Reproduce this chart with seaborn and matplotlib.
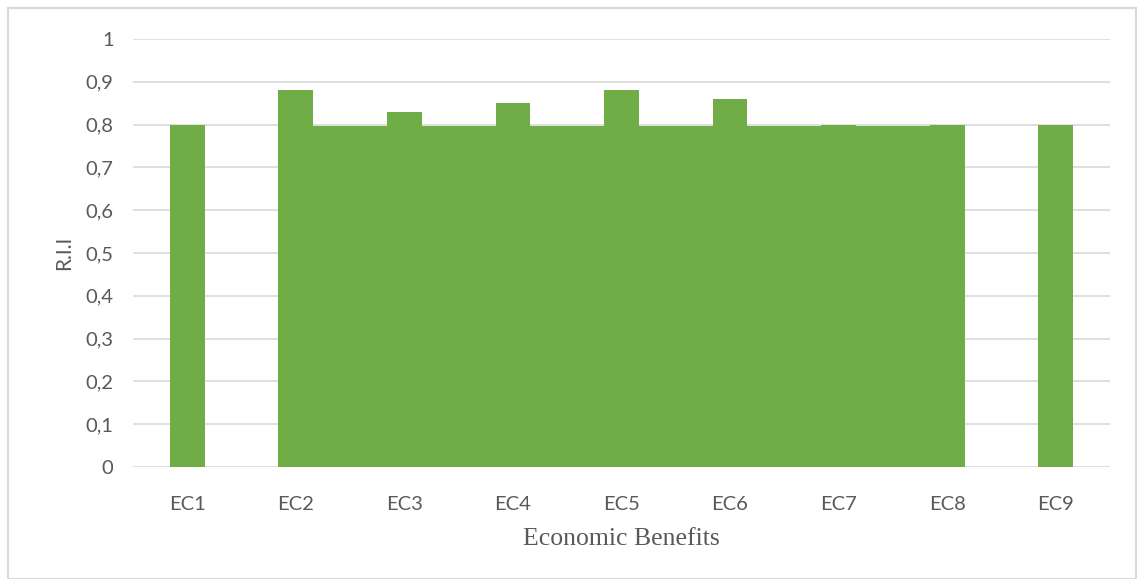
import numpy as np
import pandas as pd
import seaborn as sns
import matplotlib.pyplot as plt
from matplotlib.patches import Rectangle

# data
categories = ['EC1', 'EC2', 'EC3', 'EC4', 'EC5', 'EC6', 'EC7', 'EC8', 'EC9']
rii_values = [0.80, 0.88, 0.83, 0.85, 0.88, 0.86, 0.80, 0.80, 0.80]
yticks = [0, 0.1, 0.2, 0.3, 0.4, 0.5, 0.6, 0.7, 0.8, 0.9, 1]
ytick_labels = ['0', '0,1', '0,2', '0,3', '0,4', '0,5', '0,6', '0,7', '0,8', '0,9', '1']
# green block laid over the middle bars
block_from, block_to = 'EC2', 'EC8'
block_level = 0.797

green = '#70ad47'
grey_text = '#595959'
bar_w = 0.32

df = pd.DataFrame({'cat': categories, 'rii': rii_values})

sns.set_style('white')
plt.rcParams['font.family'] = ['Lato', 'DejaVu Sans']

fig = plt.figure(figsize=(11.37, 5.79), dpi=100)
ax = fig.add_axes([133 / 1137, 1 - 467 / 579, (1110 - 133) / 1137, (467 - 39) / 579])

sns.barplot(data=df, x='cat', y='rii', color=green, width=bar_w, saturation=1,
            linewidth=0, ax=ax, zorder=2)

# block from left edge of first bar to right edge of last bar
i0, i1 = categories.index(block_from), categories.index(block_to)
ax.bar((i0 + i1) / 2, block_level, width=(i1 - i0) + bar_w, color=green,
       zorder=3, linewidth=0)

ax.set_ylim(0, 1)
ax.set_xlim(-0.5, len(categories) - 0.5)
ax.set_yticks(yticks)
ax.set_yticklabels(ytick_labels)
ax.yaxis.grid(True, color='#d9d9d9', linewidth=1.2, zorder=0)
ax.set_axisbelow(True)
for s in ax.spines.values():
    s.set_visible(False)
ax.tick_params(axis='both', length=0, labelsize=14.5, colors=grey_text)
ax.tick_params(axis='y', pad=14)
ax.tick_params(axis='x', pad=21)

ax.set_ylabel('R.I.I', fontsize=15, color=grey_text, labelpad=8)
ax.set_xlabel('Economic Benefits', fontsize=18.5, color=grey_text,
              family='Liberation Serif', labelpad=11)

# outer chart border
fig.patches.append(Rectangle((8 / 1137, 0), 1 - 8 / 1137 - 0.0005, 1 - 8 / 579,
                             transform=fig.transFigure, fill=False,
                             edgecolor='#d9d9d9', linewidth=1.5))

fig.savefig('out.png', dpi=100)
